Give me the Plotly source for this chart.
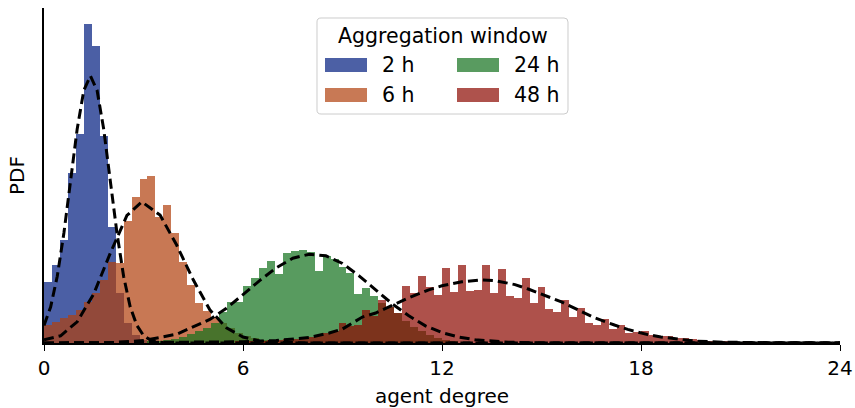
import plotly.graph_objects as go

# ---------------- data ----------------
bin_width = 0.24
series_names = ["2 h", "6 h", "24 h", "48 h"]
series_colors = ["#001c7f", "#b1400d", "#12711c", "#8c0800"]

# first bin index of each histogram (bin i spans [i*bin_width, (i+1)*bin_width])
start_2h = 0
pdf_2h = [0.153, 0.195, 0.258, 0.425, 0.523, 0.798, 0.743, 0.518, 0.290, 0.125,
          0.050, 0.020, 0.008, 0.003]

start_6h = 0
pdf_6h = [0.045, 0.053, 0.063, 0.070, 0.083, 0.103, 0.125, 0.158, 0.203, 0.200,
          0.305, 0.365, 0.410, 0.418, 0.315, 0.345, 0.275, 0.203, 0.145, 0.100,
          0.080, 0.065, 0.050, 0.038, 0.025, 0.018, 0.013, 0.008, 0.005]

start_24h = 13
pdf_24h = [0.003, 0.005, 0.008, 0.010, 0.015, 0.023, 0.030, 0.038, 0.050, 0.078,
           0.103, 0.103, 0.143, 0.163, 0.188, 0.205, 0.173, 0.225, 0.230, 0.233,
           0.228, 0.180, 0.218, 0.210, 0.190, 0.175, 0.123, 0.138, 0.118, 0.100,
           0.090, 0.075, 0.055, 0.040, 0.030, 0.020, 0.013, 0.008, 0.005]

start_48h = 24
pdf_48h = [0.003, 0.003, 0.005, 0.005, 0.008, 0.008, 0.010, 0.010, 0.013, 0.015,
           0.018, 0.025, 0.030, 0.050, 0.043, 0.045, 0.083, 0.068, 0.108, 0.090,
           0.075, 0.143, 0.125, 0.168, 0.140, 0.120, 0.188, 0.128, 0.195, 0.130,
           0.133, 0.195, 0.125, 0.185, 0.118, 0.113, 0.163, 0.100, 0.140, 0.085,
           0.078, 0.108, 0.065, 0.088, 0.050, 0.045, 0.060, 0.035, 0.045, 0.025,
           0.028, 0.030, 0.020, 0.018, 0.018, 0.013, 0.013, 0.010, 0.008, 0.005,
           0.005, 0.003, 0.003, 0.001]

# fitted density curves (dashed)
fit_x_2h = [0, 0.2, 0.4, 0.6, 0.8, 1.0, 1.2, 1.4, 1.6, 1.8, 2.0, 2.2, 2.4, 2.6,
            2.8, 3.0, 3.2, 3.4, 3.6, 4.0, 24]
fit_y_2h = [0.044, 0.090, 0.167, 0.275, 0.405, 0.535, 0.632, 0.668, 0.632, 0.535,
            0.405, 0.275, 0.167, 0.090, 0.044, 0.019, 0.008, 0.003, 0.001, 0.0, 0.0]

fit_x_6h = [0, 0.5, 1.0, 1.5, 2.0, 2.5, 2.95, 3.5, 4.0, 4.5, 5.0, 5.5, 6.0, 6.5,
            7.0, 8.0, 24]
fit_y_6h = [0.008, 0.018, 0.053, 0.123, 0.225, 0.319, 0.353, 0.320, 0.245, 0.158,
            0.083, 0.038, 0.015, 0.005, 0.002, 0.0, 0.0]

fit_x_24h = [0, 2, 3, 4, 5, 5.5, 6, 6.5, 7, 7.5, 8, 8.5, 9, 9.5, 10, 10.5, 11,
             11.5, 12, 12.5, 13, 14, 15, 24]
fit_y_24h = [0.0, 0.001, 0.006, 0.022, 0.059, 0.087, 0.121, 0.156, 0.188, 0.212,
             0.222, 0.218, 0.199, 0.168, 0.133, 0.098, 0.068, 0.043, 0.026, 0.015,
             0.008, 0.002, 0.0, 0.0]

fit_x_48h = [0, 5, 6, 7, 8, 8.6, 9, 9.6, 10, 10.6, 11, 11.6, 12, 12.6, 13.2, 13.6,
             14.2, 14.6, 15.2, 15.6, 16.2, 16.6, 17.2, 17.6, 18.2, 18.6, 19.6,
             20.5, 21.5, 22.5, 24]
fit_y_48h = [0.0, 0.001, 0.003, 0.006, 0.014, 0.025, 0.035, 0.065, 0.075, 0.098,
             0.113, 0.133, 0.143, 0.153, 0.158, 0.156, 0.146, 0.135, 0.115, 0.103,
             0.079, 0.063, 0.045, 0.034, 0.021, 0.015, 0.005, 0.002, 0.001, 0.0, 0.0]

hist_starts = [start_2h, start_6h, start_24h, start_48h]
hist_values = [pdf_2h, pdf_6h, pdf_24h, pdf_48h]
fit_xs = [fit_x_2h, fit_x_6h, fit_x_24h, fit_x_48h]
fit_ys = [fit_y_2h, fit_y_6h, fit_y_24h, fit_y_48h]

x_ticks = [0, 6, 12, 18, 24]
x_title = "agent degree"
y_title = "PDF"
legend_title = "Aggregation window"

# ---------------- figure ----------------
W, H = 855, 408
ML, MR, MT, MB = 44, 15, 8, 65
PW, PH = W - ML - MR, H - MT - MB
FONT = "DejaVu Sans"

fig = go.Figure()
for name, col, s, vals in zip(series_names, series_colors, hist_starts, hist_values):
    centers = [(s + i + 0.5) * bin_width for i in range(len(vals))]
    fig.add_trace(go.Bar(x=centers, y=vals, width=bin_width, name=name,
                         marker=dict(color=col, line=dict(width=0)),
                         opacity=0.7, showlegend=False))

for fx, fy in zip(fit_xs, fit_ys):
    fig.add_trace(go.Scatter(x=fx, y=fy, mode="lines", showlegend=False,
                             line=dict(color="black", width=3, dash="10px,5px")))

ymax = max(max(v) for v in hist_values) * 1.05


def px(x):
    return (x - ML) / PW


def py(y):
    return (MT + PH - y) / PH


shapes = []
# legend frame (rounded)
x0, x1, y0, y1, r = 317, 568, 18, 114, 4
pts = [
    ("M", [(x0 + r, y0)]), ("L", [(x1 - r, y0)]), ("Q", [(x1, y0), (x1, y0 + r)]),
    ("L", [(x1, y1 - r)]), ("Q", [(x1, y1), (x1 - r, y1)]), ("L", [(x0 + r, y1)]),
    ("Q", [(x0, y1), (x0, y1 - r)]), ("L", [(x0, y0 + r)]), ("Q", [(x0, y0), (x0 + r, y0)]),
]
path = ""
for cmd, cs in pts:
    path += cmd + " " + " ".join(f"{px(a):.5f},{py(b):.5f}" for a, b in cs) + " "
path += "Z"
shapes.append(dict(type="path", path=path, xref="paper", yref="paper",
                   fillcolor="rgba(255,255,255,0.8)", line=dict(color="#cccccc", width=1)))

annotations = [dict(text=legend_title, x=px(443), y=py(36), xref="paper", yref="paper",
                    showarrow=False, xanchor="center", yanchor="middle",
                    font=dict(family=FONT, size=20.5, color="black"))]
slots = [(325, 65), (325, 95), (457, 65), (457, 95)]  # 2h, 6h, 24h, 48h
for (sx, sy), name, col in zip(slots, series_names, series_colors):
    shapes.append(dict(type="rect", xref="paper", yref="paper",
                       x0=px(sx), x1=px(sx + 42), y0=py(sy + 7), y1=py(sy - 7),
                       fillcolor=col, opacity=0.7, line=dict(width=0)))
    annotations.append(dict(text=name, x=px(sx + 55), y=py(sy), xref="paper", yref="paper",
                            showarrow=False, xanchor="left", yanchor="middle",
                            font=dict(family=FONT, size=20.5, color="black")))

fig.update_layout(
    width=W, height=H, margin=dict(l=ML, r=MR, t=MT, b=MB),
    paper_bgcolor="white", plot_bgcolor="white",
    barmode="overlay", bargap=0,
    font=dict(family=FONT, size=20, color="black"),
    shapes=shapes, annotations=annotations,
    xaxis=dict(range=[0, 24], tickvals=x_ticks, ticktext=[str(t) for t in x_ticks],
               showgrid=False, zeroline=False, showline=True, linecolor="black",
               linewidth=1.5, ticks="outside", ticklen=6, tickwidth=1.3,
               tickcolor="black", tickfont=dict(size=20), automargin=False,
               title=dict(text=x_title, font=dict(size=20), standoff=10)),
    yaxis=dict(range=[0, ymax], showgrid=False, zeroline=False, showline=True,
               linecolor="black", linewidth=1.5, ticks="", showticklabels=False,
               automargin=False,
               title=dict(text=y_title, font=dict(size=20), standoff=12)),
)

fig.write_html("out.html")
